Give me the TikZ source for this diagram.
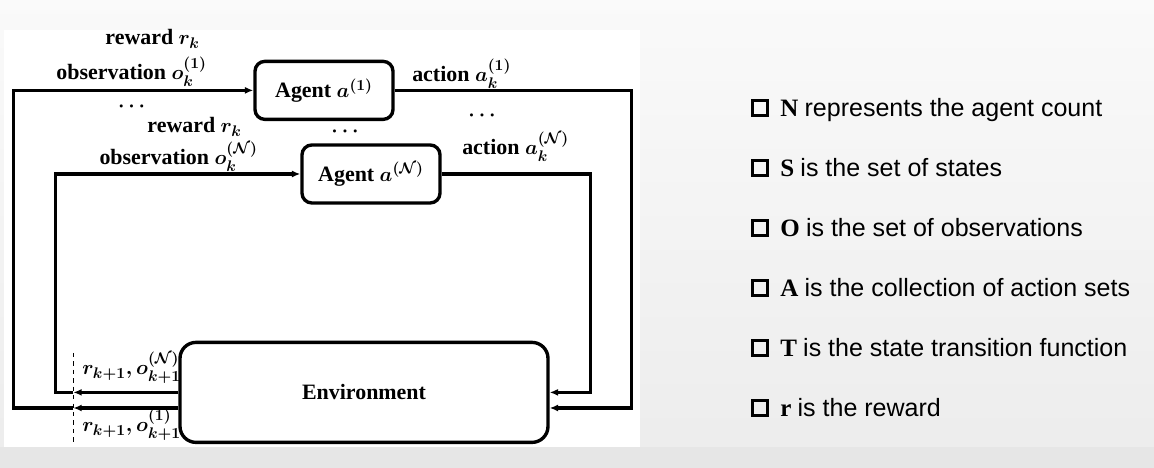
\documentclass[tikz,border=0pt]{standalone}
\usepackage{amsmath,amssymb}
\usepackage{fontspec}
\setmainfont{Liberation Serif}
\newfontfamily\listfont{Liberation Sans}
\definecolor{pagegray}{RGB}{236,236,236}
\definecolor{stripgray}{RGB}{230,230,230}
\usetikzlibrary{arrows.meta,positioning}

\begin{document}
\begin{tikzpicture}[
  agentbox/.style={draw, line width=2.4pt, rounded corners=7pt, minimum width=3.45cm, minimum height=1.45cm, inner sep=0pt, font=\fontsize{15.6}{18}\selectfont\bfseries\boldmath},
  envbox/.style={draw, line width=2.4pt, rounded corners=0.4cm, minimum width=9.2cm, minimum height=2.5cm, font=\fontsize{15.6}{18}\selectfont\bfseries},
  lbl/.style={inner sep=0pt, font=\fontsize{15.6}{18}\selectfont\bfseries\boldmath},
  flow/.style={draw, line width=2.4pt, -{Latex[length=6pt,width=5pt]}},
  checkbox/.style={draw, line width=2.2pt, minimum size=0.37cm, inner sep=0pt},
  itemtext/.style={inner sep=0pt, font=\fontsize{17.8}{21}\selectfont}
]
  % background
  \useasboundingbox (0,0) rectangle (28.85,11.7);
  \shade[top color=gray!4, bottom color=pagegray] (0,0) rectangle (28.85,11.7);
  \fill[stripgray] (0,0) rectangle (28.85,0.525);
  \fill[white] (0.1,0.525) rectangle (16,10.95);

  % agents and environment
  \node[agentbox] (ag1) at (8.1,9.44) {Agent $a^{(1)}$};
  \node[agentbox] (agN) at (9.275,7.35) {Agent $a^{(\mathcal{N})}$};
  \node[envbox] (env) at (9.1,1.89) {Environment};

  \coordinate (cutN) at ([xshift=-2.625cm]env.west);
  \coordinate (cut1) at ([xshift=-2.625cm,yshift=-0.39cm]env.west);

  % loops
  \draw[flow] (ag1.east) -| ([xshift=2.05cm,yshift=-0.39cm]env.east) -- ([yshift=-0.39cm]env.east);
  \draw[flow] (agN.east) -| ([xshift=1.025cm]env.east) -- (env.east);
  \draw[flow] (env.west) -- (cutN);
  \draw[flow] (cutN) -- ++(-0.45,0) |- (agN.west);
  \draw[flow] ([yshift=-0.39cm]env.west) -- (cut1);
  \draw[flow] (cut1) -- ++(-1.5,0) |- (ag1.west);

  \coordinate (dtop) at ([yshift=0.985cm]cutN);
  \coordinate (dbot) at ([yshift=-0.85cm]cut1);
  \draw[dashed, line width=0.7pt] (dtop) -- (dbot);

  % labels
  \node[lbl, anchor=base east] (rew1) at (5.0,10.575) {reward $r_k$};
  \node[lbl, anchor=base east] (obs1) at (5.175,9.7) {observation $o_k^{(1)}$};
  \node[lbl] (dotsL) at (3.34,9.03) {$\cdots$};
  \node[lbl, anchor=base east] (rewN) at (6.05,8.375) {reward $r_k$};
  \node[lbl, anchor=base east] (obsN) at (6.45,7.575) {observation $o_k^{(\mathcal{N})}$};
  \node[lbl] (dotsM) at (8.675,8.4) {$\cdots$};
  \node[lbl, anchor=base west] (act1) at (10.3,9.65) {action $a_k^{(1)}$};
  \node[lbl] (dotsR) at (12.1,8.8) {$\cdots$};
  \node[lbl, anchor=base west] (actN) at (11.55,7.825) {action $a_k^{(\mathcal{N})}$};
  \node[lbl, anchor=base west] (nxtN) at (2.05,2.325) {$r_{k+1}, o_{k+1}^{(\mathcal{N})}$};
  \node[lbl, anchor=base west] (nxt1) at (2.05,0.9) {$r_{k+1}, o_{k+1}^{(1)}$};

  % tuple items
  \foreach \sym/\txt [count=\i] in {N/represents the agent count, S/is the set of states, O/is the set of observations, A/is the collection of action sets, T/is the state transition function, r/is the reward} {
    \node[checkbox] (box\i) at (19.0,{10.5-1.5*\i}) {};
    \node[itemtext, anchor=base west] (item\i) at (19.5,{10.275-1.5*\i}) {\textbf{\sym} {\listfont \txt}};
  }
\end{tikzpicture}
\end{document}
